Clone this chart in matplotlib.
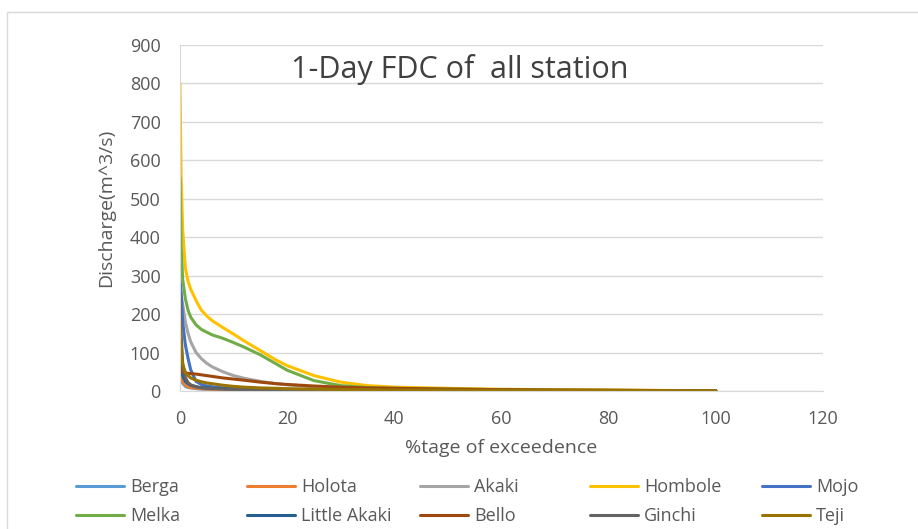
import numpy as np
import matplotlib
matplotlib.use("Agg")
from matplotlib import pyplot as plt
from matplotlib.patches import Rectangle

# percent of time exceeded (x) shared by all stations
exceed = [0, 0.2, 0.5, 1, 1.5, 2, 3, 4, 5, 6, 8, 10, 12, 15, 18, 20,
          25, 30, 35, 40, 50, 60, 70, 80, 90, 100]

# discharge (m^3/s)
berga = [60, 35, 20, 12, 9, 8, 6, 5, 4.5, 4, 3.5, 3, 2.8, 2.5, 2.2, 2,
         1.8, 1.5, 1.3, 1.2, 1, 0.8, 0.6, 0.5, 0.3, 0.1]
holota = [60, 40, 25, 15, 11, 9, 7, 6, 5, 4.5, 4, 3.5, 3.2, 3, 2.7, 2.5,
          2.2, 2, 1.8, 1.6, 1.3, 1, 0.8, 0.6, 0.4, 0.1]
akaki = [270, 250, 225, 180, 150, 128, 100, 84, 72, 63, 50, 40, 33, 25, 19, 16,
         11, 8, 6, 5, 3.5, 2.5, 2, 1.5, 1, 0.5]
hombole = [800, 560, 420, 320, 285, 265, 235, 210, 195, 183, 165, 148, 130, 105, 80, 66,
           40, 23, 14, 10, 7, 4.5, 3.5, 2.5, 1.5, 0.5]
mojo = [290, 260, 180, 120, 85, 55, 25, 17, 13, 11, 8, 6, 5, 4, 3, 2.5,
        2, 1.5, 1.2, 1, 0.8, 0.6, 0.4, 0.3, 0.2, 0.1]
melka = [555, 380, 290, 240, 210, 192, 172, 160, 153, 146, 137, 126, 114, 94, 70, 54,
         27, 14, 9, 7, 5, 3.5, 2.5, 1.8, 1, 0.3]
little_akaki = [120, 70, 40, 25, 19, 15, 11, 9, 8, 7, 6, 5, 4.5, 4, 3.5, 3,
                2.5, 2.2, 2, 1.8, 1.5, 1.2, 1, 0.8, 0.5, 0.2]
bello = [60, 52, 49, 47, 46, 45, 44, 42, 40, 38, 34, 31, 28, 23, 19, 17,
         13, 10, 8, 7, 5, 3.5, 2.5, 2, 1.2, 0.5]
ginchi = [250, 150, 70, 35, 22, 16, 11, 8, 7, 6, 5, 4, 3.6, 3.2, 2.8, 2.5,
          2, 1.8, 1.6, 1.4, 1.1, 0.9, 0.7, 0.5, 0.3, 0.1]
teji = [180, 120, 70, 48, 40, 34, 28, 24, 21, 19, 15, 12, 10, 8, 7, 6,
        5, 4, 3.5, 3, 2.5, 2, 1.5, 1.2, 0.8, 0.3]

names = ["Berga", "Holota", "Akaki", "Hombole", "Mojo",
         "Melka", "Little Akaki", "Bello", "Ginchi", "Teji"]
series = [berga, holota, akaki, hombole, mojo,
          melka, little_akaki, bello, ginchi, teji]
colors = ["#5B9BD5", "#ED7D31", "#A5A5A5", "#FFC000", "#4472C4",
          "#70AD47", "#255E91", "#9E480E", "#636363", "#997300"]

plt.rcParams['font.family'] = ['Open Sans', 'DejaVu Sans']
txt = "#595959"

fig = plt.figure(figsize=(9.18, 5.29), dpi=100)
fig.patches.append(Rectangle((7 / 918, -0.1), 1.2, 1 - 12 / 529 + 0.1,
                             transform=fig.transFigure, fill=False,
                             edgecolor="#D9D9D9", linewidth=1))
ax = fig.add_axes([180 / 918, 1 - 391 / 529, 643 / 918, 346 / 529])

lines = {}
for name, y, c in zip(names, series, colors):
    ln, = ax.plot(exceed, y, color=c, linewidth=2.2, label=name,
                  solid_capstyle="round", solid_joinstyle="round")
    lines[name] = ln

ax.set_xlim(0, 120)
ax.set_ylim(0, 900)
ax.set_xticks(np.arange(0, 121, 20))
ax.set_yticks(np.arange(0, 901, 100))
ax.grid(axis="y", color="#D9D9D9", linewidth=1)
ax.set_axisbelow(True)
for s in ["top", "right"]:
    ax.spines[s].set_visible(False)
for s in ["left", "bottom"]:
    ax.spines[s].set_color("#D9D9D9")
ax.tick_params(length=0, labelsize=13, labelcolor=txt)
ax.tick_params(axis="x", pad=14)
ax.tick_params(axis="y", pad=14)
ax.set_xlabel("%tage of exceedence", fontsize=14, color=txt)
ax.set_ylabel("Discharge(m^3/s)", fontsize=14, color=txt)
ax.xaxis.set_label_coords(0.5, -0.14)
ax.yaxis.set_label_coords(-0.101, 0.528)
ax.text(0.173, 0.928, "1-Day FDC of  all station", transform=ax.transAxes,
        fontsize=22, color="#404040", va="center")

# legend laid out as 5 columns of 2 rows
col_x = [76, 247, 420, 590, 762]
for i, x in enumerate(col_x):
    hs = [lines[names[i]], lines[names[i + 5]]]
    fig.legend(hs, [h.get_label() for h in hs], loc="upper left",
               bbox_to_anchor=(x / 918, 1 - 478 / 529), frameon=False,
               fontsize=13, handlelength=2.65, handletextpad=0.35,
               borderpad=0, borderaxespad=0, labelspacing=0.6,
               labelcolor=txt)

fig.savefig("out.png", dpi=100)
